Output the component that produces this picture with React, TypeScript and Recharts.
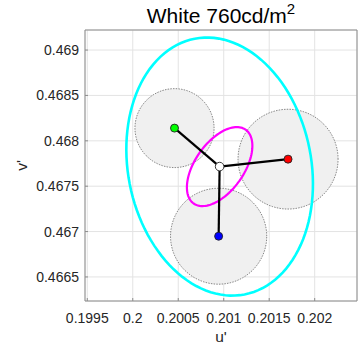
import React from "react";
import { CartesianGrid, Label, ReferenceArea, Scatter, ScatterChart, XAxis, YAxis } from "recharts";

// axis ticks / ranges
const xTicks = ["0.1995", "0.2", "0.2005", "0.201", "0.2015", "0.202"];
const yTicks = ["0.4665", "0.467", "0.4675", "0.468", "0.4685", "0.469"];
const xDomain = [0.199475, 0.202465];
const yDomain = [0.466235, 0.469221];

// primaries (u', v') and their spread circles
const primaryNames = ["red", "green", "blue"];
const primaryColors = ["#ff0000", "#00ff00", "#0000ff"];
const primaryU = [0.201707, 0.200459, 0.200944];
const primaryV = [0.467798, 0.46814, 0.466949];
const primaryRadius = [0.00055, 0.000435, 0.000529];

// white point
const whiteU = 0.200955;
const whiteV = 0.467716;

// ellipses round the white point
const ellipseNames = ["outer", "inner"];
const ellipseColors = ["#00ffff", "#ff00ff"];
const ellipseWidths = [2.6, 2.2];
const ellipseSemiMajor = [0.001435, 0.000497];
const ellipseSemiMinor = [0.001007, 0.000268];
const ellipseAngle = [101, 55];

const FONT = "'Liberation Sans', Arial, sans-serif";
const TEXT = "#262626";

type Pt = { u: number; v: number; color?: string };

function ellipsePoints(cu: number, cv: number, a: number, b: number, deg: number, n = 120): Pt[] {
  const th = (deg * Math.PI) / 180;
  const out: Pt[] = [];
  for (let i = 0; i <= n; i++) {
    const t = (2 * Math.PI * i) / n;
    const x = a * Math.cos(t);
    const y = b * Math.sin(t);
    out.push({ u: cu + x * Math.cos(th) - y * Math.sin(th), v: cv + x * Math.sin(th) + y * Math.cos(th) });
  }
  return out;
}

const noDot = () => <g />;

const filledCircle = (p: any) => {
  const pts = p.points || [];
  if (!pts.length) return <g />;
  const d = pts.map((q: any, i: number) => `${i ? "L" : "M"}${q.x},${q.y}`).join(" ") + " Z";
  return <path d={d} fill="#f0f0f0" stroke="#3a3a3a" strokeWidth={0.6} strokeDasharray="1.5 1.2" />;
};

const markerShape = (p: any) => (
  <circle cx={p.cx} cy={p.cy} r={p.payload.color === "#ffffff" ? 4.3 : 4} fill={p.payload.color} stroke="#222" strokeWidth={0.9} />
);

const uLabel = (p: any) => {
  const vb = p.viewBox || { x: 85, y: 301, width: 272, height: 49 };
  return (
    <text x={vb.x + vb.width / 2} y={vb.y + 41} textAnchor="middle" fontSize={15.5} fontFamily={FONT} fill={TEXT}>
      u'
    </text>
  );
};

const vLabel = (p: any) => {
  const vb = p.viewBox || { x: 0, y: 30, width: 85, height: 271 };
  const x = vb.x + 27;
  const y = vb.y + vb.height / 2;
  return (
    <text x={x} y={y} transform={`rotate(-90, ${x}, ${y})`} textAnchor="middle" fontSize={15.5} fontFamily={FONT} fill={TEXT}>
      v'
    </text>
  );
};

export default function App() {
  const tickStyle = { fontSize: 14, fill: TEXT, fontFamily: FONT };
  return (
    <div style={{ position: "absolute", left: 0, top: 0, width: 359, height: 350, background: "#fff" }}>
      <div
        style={{
          position: "absolute",
          left: 85,
          width: 272,
          top: 5,
          textAlign: "center",
          fontSize: 21,
          lineHeight: "21px",
          fontFamily: FONT,
          color: "#000",
          zIndex: 2,
        }}
      >
        White 760cd/m<span style={{ fontSize: 15, verticalAlign: "9px", lineHeight: 0 }}>2</span>
      </div>
      <ScatterChart width={359} height={350} margin={{ top: 30, right: 2, bottom: 0, left: 0 }}>
        <CartesianGrid stroke="#e3e3e3" />
        <XAxis
          dataKey="u"
          type="number"
          domain={xDomain}
          allowDataOverflow
          ticks={xTicks.map(Number)}
          interval={0}
          tickFormatter={(v: number) => xTicks[xTicks.map(Number).indexOf(v)] ?? String(v)}
          tick={tickStyle}
          tickLine={{ stroke: "#8c8c8c" }}
          axisLine={false}
          tickSize={-3}
          tickMargin={15}
          height={49}
          label={<Label content={uLabel} />}
        />
        <YAxis
          dataKey="v"
          type="number"
          domain={yDomain}
          allowDataOverflow
          ticks={yTicks.map(Number)}
          interval={0}
          tickFormatter={(v: number) => yTicks[yTicks.map(Number).indexOf(v)] ?? String(v)}
          tick={tickStyle}
          tickLine={{ stroke: "#8c8c8c" }}
          axisLine={false}
          tickSize={-3}
          tickMargin={9}
          width={85}
          label={<Label content={vLabel} />}
        />

        {primaryNames.map((name, i) => (
          <Scatter
            key={"spread-" + name}
            name={"spread-" + name}
            data={ellipsePoints(primaryU[i], primaryV[i], primaryRadius[i], primaryRadius[i], 0, 90)}
            line={filledCircle}
            shape={noDot}
            isAnimationActive={false}
          />
        ))}

        {ellipseNames.map((name, i) => (
          <Scatter
            key={"ellipse-" + name}
            name={"ellipse-" + name}
            data={ellipsePoints(whiteU, whiteV, ellipseSemiMajor[i], ellipseSemiMinor[i], ellipseAngle[i])}
            line={{ stroke: ellipseColors[i], strokeWidth: ellipseWidths[i] }}
            fill={ellipseColors[i]}
            shape={noDot}
            isAnimationActive={false}
          />
        ))}

        {primaryNames.map((name, i) => (
          <Scatter
            key={"link-" + name}
            name={"link-" + name}
            data={[{ u: whiteU, v: whiteV }, { u: primaryU[i], v: primaryV[i] }]}
            line={{ stroke: "#000", strokeWidth: 2.2 }}
            fill="#000"
            shape={noDot}
            isAnimationActive={false}
          />
        ))}

        <Scatter
          name="points"
          data={[
            ...primaryNames.map((_, i) => ({ u: primaryU[i], v: primaryV[i], color: primaryColors[i] })),
            { u: whiteU, v: whiteV, color: "#ffffff" },
          ]}
          shape={markerShape}
          isAnimationActive={false}
        />

        <ReferenceArea
          x1={xDomain[0]}
          x2={xDomain[1]}
          y1={yDomain[0]}
          y2={yDomain[1]}
          fill="none"
          stroke="#8c8c8c"
          strokeWidth={1}
          ifOverflow="visible"
        />
      </ScatterChart>
    </div>
  );
}
